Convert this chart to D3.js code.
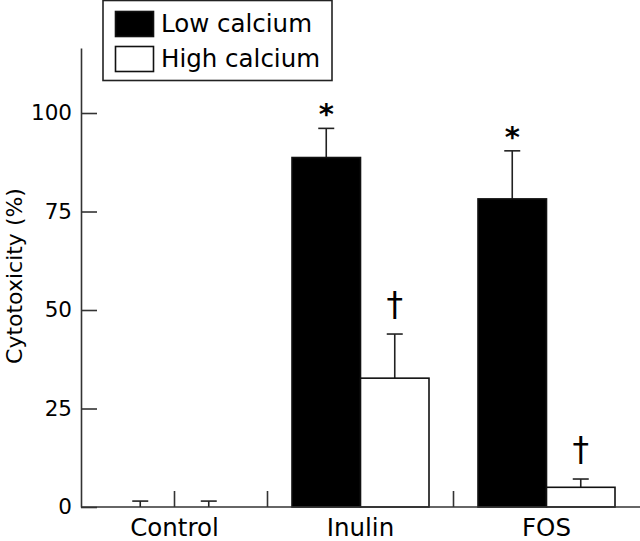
<!DOCTYPE html>
<html>
<head>
<meta charset="utf-8">
<script src="https://cdn.jsdelivr.net/npm/d3@7"></script>
<style>
  body { margin: 0; background: #fff; }
  svg text { font-family: "DejaVu Sans", sans-serif; fill: #000; }
</style>
</head>
<body>
<div class="container"></div>
<script>
// data
const categories = ["Control", "Inulin", "FOS"];
const series = ["Low calcium", "High calcium"];
const lowCalcium = [0, 88.7, 78.2];
const lowCalciumErr = [1.5, 7.4, 12.2];
const highCalcium = [0, 32.7, 5.0];
const highCalciumErr = [1.5, 11.2, 2.1];
const lowMarks = ["", "*", "*"];
const highMarks = ["", "\u2020", "\u2020"];
const yTicks = [0, 25, 50, 75, 100];

const width = 640, height = 541;

let svg = d3.select(".container").append("svg")
  .attr("width", width)
  .attr("height", height);

const y = d3.scaleLinear().domain([0, 116.5]).range([507, 48]);
const x0 = d3.scaleBand().domain(categories).range([81.5, 639.5]);
const x1 = d3.scaleBand().domain(series).range([24.5, 161.5]);
const fills = { "Low calcium": "#000", "High calcium": "#fff" };

// rows of bars
let rows = [];
categories.forEach((c, i) => {
  rows.push({ cat: c, s: series[0], v: lowCalcium[i], e: lowCalciumErr[i], m: lowMarks[i] });
  rows.push({ cat: c, s: series[1], v: highCalcium[i], e: highCalciumErr[i], m: highMarks[i] });
});
const cx = d => x0(d.cat) + x1(d.s) + x1.bandwidth() / 2;

// error bars (drawn first, bars go over the stem start)
let eb = svg.append("g").attr("stroke", "#222").attr("stroke-width", 1.6);
eb.selectAll("line.stem").data(rows).enter().append("line")
  .attr("x1", cx).attr("x2", cx)
  .attr("y1", d => y(d.v)).attr("y2", d => y(d.v + d.e));
eb.selectAll("line.cap").data(rows).enter().append("line")
  .attr("x1", d => cx(d) - 8).attr("x2", d => cx(d) + 8)
  .attr("y1", d => y(d.v + d.e)).attr("y2", d => y(d.v + d.e));

svg.append("g").selectAll("rect").data(rows.filter(d => d.v > 0)).enter().append("rect")
  .attr("x", d => x0(d.cat) + x1(d.s))
  .attr("y", d => y(d.v))
  .attr("width", x1.bandwidth())
  .attr("height", d => y(0) - y(d.v))
  .attr("fill", d => fills[d.s])
  .attr("stroke", "#111")
  .attr("stroke-width", 1.6);

// significance marks
svg.append("g").selectAll("text").data(rows.filter(d => d.m)).enter().append("text")
  .attr("x", cx)
  .attr("y", d => y(d.v + d.e) - (d.m === "*" ? 4 : 18))
  .attr("text-anchor", "middle")
  .style("font-size", d => d.m === "*" ? "29px" : "33px")
  .style("font-weight", d => d.m === "*" ? "bold" : "normal")
  .text(d => d.m);

// y axis
let ya = svg.append("g").attr("transform", "translate(81,0)")
  .call(d3.axisLeft(y).tickValues(yTicks).tickSizeInner(-16).tickSizeOuter(0).tickPadding(9));
ya.select(".domain").attr("stroke", "#333").attr("stroke-width", 1.6);
ya.selectAll(".tick line").attr("stroke", "#333").attr("stroke-width", 1.6);
ya.selectAll(".tick text").style("font-size", "21.5px").style("font-family", "DejaVu Sans").attr("fill", "#000");

svg.append("text")
  .attr("transform", "translate(22,276) rotate(-90)")
  .attr("text-anchor", "middle")
  .style("font-size", "22px")
  .text("Cytotoxicity (%)");

// x axis
let xa = svg.append("g").attr("stroke", "#333").attr("stroke-width", 1.6);
xa.append("line").attr("x1", 81).attr("x2", width).attr("y1", y(0)).attr("y2", y(0));
const xTickPos = [x0("Control") + x0.step() / 2, x0("Inulin"), x0("FOS")];
xa.selectAll("line.t").data(xTickPos).enter().append("line")
  .attr("x1", d => d).attr("x2", d => d)
  .attr("y1", y(0)).attr("y2", y(0) - 16);

svg.append("g").selectAll("text").data(categories).enter().append("text")
  .attr("x", d => x0(d) + x0.bandwidth() / 2)
  .attr("y", 536)
  .attr("text-anchor", "middle")
  .style("font-size", "24.5px")
  .text(d => d);

// legend
let lg = svg.append("g");
lg.append("rect").attr("x", 103).attr("y", 0.5).attr("width", 229).attr("height", 80)
  .attr("fill", "#fff").attr("stroke", "#222").attr("stroke-width", 1.6);
series.forEach((s, i) => {
  lg.append("rect").attr("x", 115.5).attr("y", 11.5 + i * 35).attr("width", 38).attr("height", 25)
    .attr("fill", fills[s]).attr("stroke", "#111").attr("stroke-width", 1.6);
  lg.append("text").attr("x", 161).attr("y", 32 + i * 35)
    .style("font-size", "24.5px").text(s);
});
</script>
</body>
</html>
